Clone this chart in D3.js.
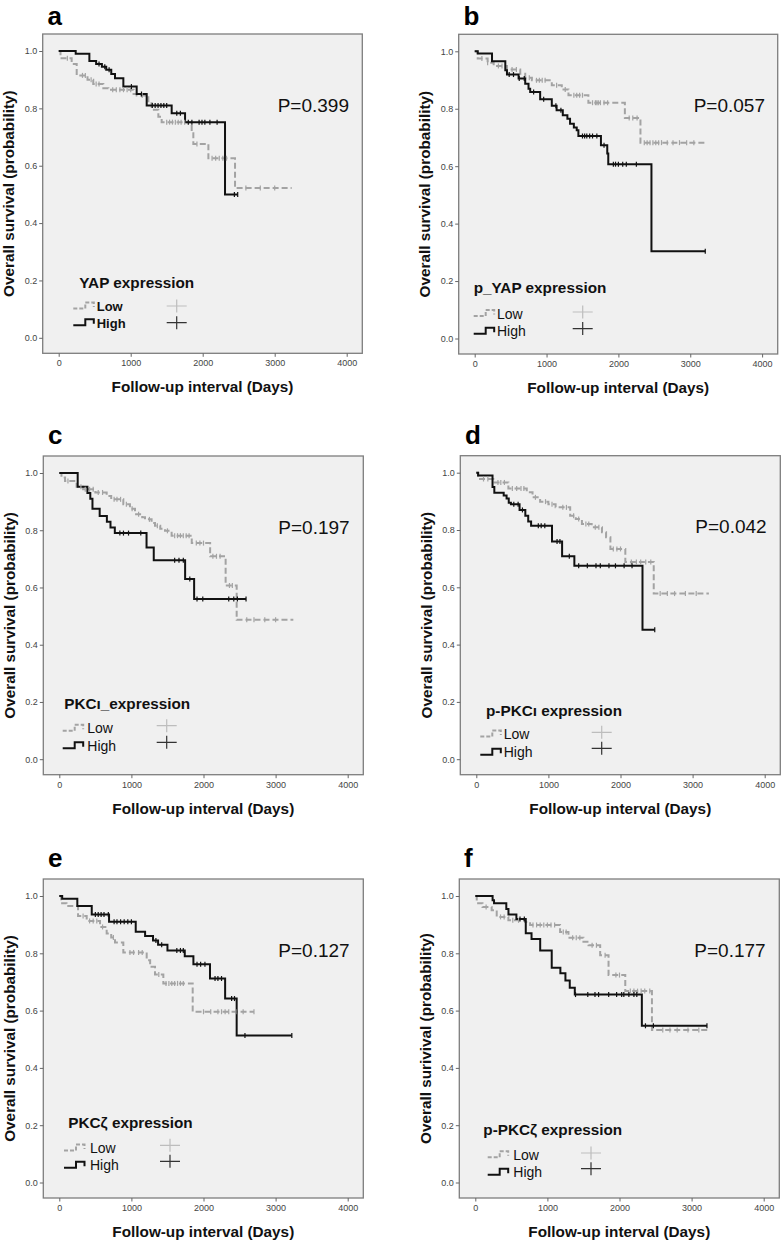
<!DOCTYPE html>
<html><head><meta charset="utf-8">
<script src="https://cdn.jsdelivr.net/npm/d3@7"></script>
<style>
html,body{margin:0;padding:0;background:#fff;}
svg{display:block;font-family:Arial,"Liberation Sans",sans-serif;}
</style></head>
<body>
<svg id="chart" width="783" height="1241"></svg>
<script>
// ---- axis ticks ----
const xTicks = [0, 1000, 2000, 3000, 4000];
const yTicks = [0, 0.2, 0.4, 0.6, 0.8, 1.0];

// ---- panel texts ----
const panelLetters = ["a", "b", "c", "d", "e", "f"];
const pValues = ["P=0.399", "P=0.057", "P=0.197", "P=0.042", "P=0.127", "P=0.177"];
const legendTitles = ["YAP expression", "p_YAP expression", "PKC\u0131_expression", "p-PKC\u0131 expression", "PKC\u03b6 expression", "p-PKC\u03b6 expression"];
const yTitles = ["Overall survival (probability)", "Overall survival (probability)", "Overall survival (probability)", "Overall survival (probability)", "Overall survival (probability)", "Overall surivival (probability)"];
const groupNames = ["Low", "High"];

// ---- Kaplan-Meier step data [days, survival] (last pair = end of follow-up) ----
const aHigh = [[0,1],[236,0.99],[426,0.965],[520,0.955],[600,0.945],[660,0.935],[730,0.92],[782,0.905],[898,0.876],[1083,0.85],[1222,0.81],[1569,0.783],[1755,0.752],[2310,0.50],[2486,0.50]];
const aHighCens = [560,640,700,1010,1150,1300,1340,1380,1420,1460,1500,1640,1690,1800,1850,1950,1990,2030,2100,2200,2440,2486];
const aLow = [[0,1],[25,0.975],[180,0.955],[250,0.915],[400,0.90],[480,0.885],[620,0.87],[690,0.865],[1040,0.85],[1083,0.845],[1245,0.818],[1292,0.795],[1384,0.771],[1430,0.752],[1847,0.713],[1870,0.676],[2079,0.626],[2449,0.522],[3236,0.522]];
const aLowCens = [120,330,370,450,520,560,750,800,850,900,950,1000,1160,1500,1540,1580,1620,1660,1700,1750,1920,2130,2180,2230,2280,2330,2600,2800,3000];

const bHigh = [[0,1],[42,0.992],[241,0.965],[426,0.934],[449,0.919],[611,0.905],[703,0.887],[749,0.870],[772,0.858],[911,0.833],[1073,0.81],[1140,0.795],[1226,0.777],[1290,0.765],[1327,0.748],[1380,0.735],[1420,0.725],[1443,0.705],[1757,0.673],[1845,0.644],[1859,0.607],[2460,0.304],[3209,0.304]];
const bHighCens = [480,540,620,690,820,960,1130,1200,1500,1530,1560,1600,1640,1700,1800,1930,1960,2000,2060,2110,2250,3209];
const bLow = [[0,1],[42,0.975],[180,0.96],[264,0.949],[449,0.937],[634,0.922],[703,0.908],[796,0.899],[1073,0.882],[1212,0.867],[1305,0.847],[1582,0.821],[2090,0.768],[2307,0.682],[3232,0.682]];
const bLowCens = [100,180,330,380,520,580,760,860,900,940,980,1140,1260,1380,1420,1460,1500,1640,1680,1700,1720,1750,1800,1850,2150,2200,2260,2360,2400,2440,2480,2520,2560,2600,2680,2760,2850,2950,3050];

const cHigh = [[0,1],[255,0.952],[390,0.93],[430,0.91],[460,0.875],[560,0.85],[660,0.83],[710,0.81],[770,0.79],[1210,0.74],[1310,0.695],[1745,0.63],[1870,0.56],[2590,0.56]];
const cHighCens = [840,890,960,1130,1600,1660,1720,1810,1910,1990,2350,2420,2470,2590];
const cLow = [[0,1],[30,0.984],[80,0.972],[240,0.952],[330,0.943],[500,0.932],[657,0.92],[720,0.908],[888,0.891],[980,0.875],[1050,0.856],[1150,0.845],[1189,0.838],[1280,0.825],[1327,0.816],[1400,0.805],[1466,0.798],[1558,0.781],[1837,0.755],[2092,0.709],[2307,0.607],[2460,0.487],[3246,0.487]];
const cLowCens = [120,300,360,420,470,540,600,760,800,850,930,1010,1100,1250,1360,1500,1600,1640,1680,1720,1760,1800,1900,1950,2000,2130,2180,2230,2360,2400,2600,2700,2850,3000];

const dHigh = [[0,1],[25,0.99],[225,0.95],[250,0.93],[380,0.92],[420,0.91],[450,0.895],[480,0.89],[600,0.87],[680,0.85],[720,0.83],[760,0.815],[1050,0.76],[1190,0.708],[1360,0.675],[2305,0.452],[2475,0.452]];
const dHighCens = [520,580,640,860,900,950,1120,1160,1290,1420,1540,1660,1720,1840,1930,2050,2160,2475];
const dLow = [[0,1],[27,0.978],[236,0.966],[445,0.945],[700,0.932],[780,0.914],[885,0.899],[1000,0.89],[1100,0.879],[1302,0.85],[1380,0.838],[1465,0.821],[1600,0.81],[1743,0.792],[1800,0.775],[1860,0.734],[2067,0.688],[2461,0.578],[3226,0.578]];
const dLowCens = [100,160,300,340,390,500,560,620,660,820,960,1050,1200,1250,1350,1420,1520,1560,1650,1700,1900,1950,2000,2150,2220,2280,2350,2420,2550,2650,2750,2900,3050];

const eHigh = [[0,1],[40,0.99],[250,0.965],[450,0.935],[690,0.91],[1060,0.875],[1190,0.86],[1300,0.845],[1370,0.83],[1500,0.81],[1740,0.79],[1860,0.762],[2090,0.712],[2300,0.642],[2460,0.513],[3225,0.513]];
const eHighCens = [500,540,580,620,680,760,800,850,900,950,1000,1340,1420,1630,1680,1720,1910,1960,2020,2160,2200,2250,2390,2430,2575,3225];
const eLow = [[0,1],[25,0.975],[100,0.965],[260,0.93],[380,0.913],[565,0.892],[657,0.869],[720,0.855],[773,0.838],[888,0.803],[1212,0.776],[1260,0.753],[1327,0.726],[1443,0.695],[1850,0.596],[2700,0.596]];
const eLowCens = [330,420,470,520,600,750,980,1030,1100,1150,1380,1480,1520,1560,1600,1640,1680,1720,2000,2100,2200,2250,2300,2350,2450,2550,2700];

const fHigh = [[0,1],[240,0.985],[260,0.975],[430,0.955],[460,0.935],[570,0.92],[700,0.87],[780,0.85],[900,0.81],[1060,0.75],[1180,0.73],[1250,0.705],[1310,0.68],[1380,0.656],[2310,0.547],[3213,0.547]];
const fHighCens = [620,680,1390,1560,1660,1710,1850,1960,2030,2060,2130,2200,2240,2360,2470,3213];
const fLow = [[0,1],[20,0.975],[100,0.962],[227,0.95],[297,0.927],[459,0.915],[690,0.909],[760,0.899],[1176,0.874],[1292,0.854],[1500,0.840],[1570,0.828],[1732,0.793],[1848,0.724],[2080,0.668],[2450,0.532],[3240,0.532]];
const fLowCens = [150,350,400,520,600,800,850,900,950,1000,1050,1100,1220,1260,1350,1400,1450,1620,1680,1800,1950,2000,2150,2200,2250,2300,2350,2420,2600,2700,2800,2950,3100];

const lowSeries = [aLow, bLow, cLow, dLow, eLow, fLow];
const lowCensors = [aLowCens, bLowCens, cLowCens, dLowCens, eLowCens, fLowCens];
const highSeries = [aHigh, bHigh, cHigh, dHigh, eHigh, fHigh];
const highCensors = [aHighCens, bHighCens, cHighCens, dHighCens, eHighCens, fHighCens];

// ---- layout (pixels) ----
const boxes = [[42.7,34,319.6,319.3],[458.7,34.3,319,319.7],[43.3,456,320,318.7],[460.3,455.7,320,319],[43.3,879,320,319],[459.3,879,320,319]];
const legends = [
  {tx:36.6, ty:254.3, sx:30.6, lx:54, ly:277, hy:293.7, px:134, ply:272, phy:288.7, bold:true, fs:13},
  {tx:15, ty:259, sx:15, lx:38.3, ly:284.3, hy:302, px:124, ply:277.7, phy:294.3, bold:false, fs:14},
  {tx:21, ty:253, sx:19.4, lx:44, ly:277.3, hy:294.7, px:123.4, ply:269.7, phy:286.3, bold:false, fs:14},
  {tx:25.7, ty:260, sx:20, lx:43.4, ly:283.3, hy:301.6, px:141.4, ply:276.6, phy:292.6, bold:false, fs:14},
  {tx:25, ty:249, sx:20.7, lx:46.7, ly:274, hy:291.3, px:126.7, ply:266.3, phy:282.3, bold:false, fs:14},
  {tx:24, ty:255.7, sx:28.4, lx:54, ly:280.7, hy:298.3, px:131.7, ply:274, phy:289.7, bold:false, fs:14}
];

const svg = d3.select("#chart");
const LOWC = "#a3a3a3", HIGHC = "#111";

function survAt(series, t) {
  let s = series[0][1];
  for (const p of series) { if (p[0] <= t) s = p[1]; else break; }
  return s;
}

for (let i = 0; i < 6; i++) {
  const [L, T, W, H] = boxes[i];
  const x = d3.scaleLinear().domain([0, 4000]).range([L + 16, L + W - 15.6]);
  const y = d3.scaleLinear().domain([0, 1]).range([T + H - 15.5, T + 17]);
  const g = svg.append("g");

  g.append("rect").attr("x", L).attr("y", T).attr("width", W).attr("height", H)
    .attr("fill", "#f0f0f0").attr("stroke", "#7d7d7d").attr("stroke-width", 1.3);

  // axes
  const xAxis = d3.axisBottom(x).tickValues(xTicks).tickSize(3.5).tickPadding(3).tickFormat(d3.format("d"));
  const yAxis = d3.axisLeft(y).tickValues(yTicks).tickSize(3.5).tickPadding(2).tickFormat(d3.format(".1f"));
  const gx = g.append("g").attr("transform", `translate(0,${T + H})`).call(xAxis);
  const gy = g.append("g").attr("transform", `translate(${L},0)`).call(yAxis);
  [gx, gy].forEach(a => {
    a.select(".domain").remove();
    a.selectAll("line").attr("stroke", "#666");
    a.selectAll("text").attr("fill", "#444").style("font-size", "9px").style("font-family", "Arial, 'Liberation Sans', sans-serif");
  });

  // titles
  g.append("text").attr("x", L + W / 2).attr("y", T + H + 39).attr("text-anchor", "middle")
    .style("font-weight", "bold").style("font-size", "15.3px").attr("fill", "#111").text("Follow-up interval (Days)");
  g.append("text").attr("transform", `translate(${L - 34},${T + H / 2}) rotate(-90)`).attr("dy", "0.36em")
    .attr("text-anchor", "middle").style("font-weight", "bold").style("font-size", "15.3px").attr("fill", "#111").text(yTitles[i]);
  g.append("text").attr("x", L + 4.8).attr("y", Math.max(T - 12, 24.5)).style("font-weight", "bold").style("font-size", "26px")
    .attr("fill", "#000").text(panelLetters[i]);
  g.append("text").attr("x", L + 235).attr("y", T + 77.5).style("font-size", "19px").attr("fill", "#111").text(pValues[i]);

  // curves
  const line = d3.line().x(d => x(d[0])).y(d => y(d[1])).curve(d3.curveStepAfter);
  g.append("path").datum(lowSeries[i]).attr("d", line).attr("fill", "none")
    .attr("stroke", LOWC).attr("stroke-width", 2).attr("stroke-dasharray", "6,3");
  g.append("path").datum(highSeries[i]).attr("d", line).attr("fill", "none")
    .attr("stroke", HIGHC).attr("stroke-width", 2);
  g.selectAll(".cl").data(lowCensors[i]).enter().append("line")
    .attr("x1", d => x(d)).attr("x2", d => x(d))
    .attr("y1", d => y(survAt(lowSeries[i], d)) - 2.5).attr("y2", d => y(survAt(lowSeries[i], d)) + 2.5)
    .attr("stroke", LOWC).attr("stroke-width", 1.2);
  g.selectAll(".ch").data(highCensors[i]).enter().append("line")
    .attr("x1", d => x(d)).attr("x2", d => x(d))
    .attr("y1", d => y(survAt(highSeries[i], d)) - 2.5).attr("y2", d => y(survAt(highSeries[i], d)) + 2.5)
    .attr("stroke", HIGHC).attr("stroke-width", 1.2);

  // legend
  const lg = legends[i];
  g.append("text").attr("x", L + lg.tx).attr("y", T + lg.ty).style("font-weight", "bold").style("font-size", "15.3px")
    .attr("fill", "#111").text(legendTitles[i]);
  const rows = [{yb: T + lg.ly, col: LOWC, dash: "4,2", py: T + lg.ply, pc: "#bdbdbd"},
                {yb: T + lg.hy, col: HIGHC, dash: null, py: T + lg.phy, pc: "#333"}];
  rows.forEach((r, k) => {
    const sx = L + lg.sx;
    g.append("path").attr("d", `M${sx},${r.yb - 2.5}H${sx + 12}V${r.yb - 8.5}H${sx + 20.5}V${r.yb - 4}`)
      .attr("fill", "none").attr("stroke", r.col).attr("stroke-width", 2).attr("stroke-dasharray", r.dash);
    g.append("text").attr("x", L + lg.lx).attr("y", r.yb).style("font-size", lg.fs + "px")
      .style("font-weight", lg.bold ? "bold" : "normal").attr("fill", "#111").text(groupNames[k]);
    const px = L + lg.px;
    g.append("path").attr("d", `M${px - 10},${r.py}H${px + 10}M${px},${r.py - 6.5}V${r.py + 6.5}`)
      .attr("stroke", r.pc).attr("stroke-width", 1.2).attr("fill", "none");
  });
}
</script>
</body></html>
